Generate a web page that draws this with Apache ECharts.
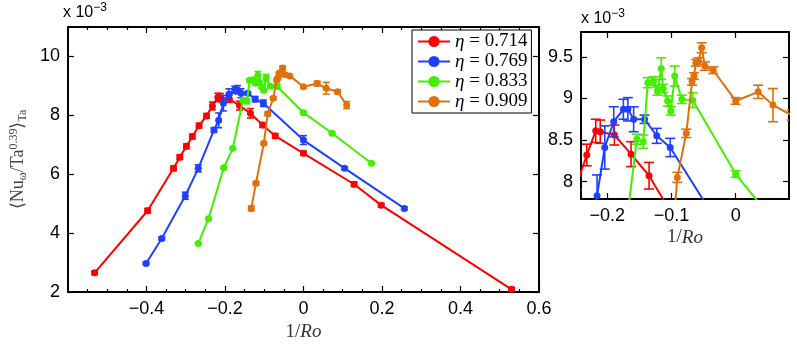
<!DOCTYPE html>
<html>
<head>
<meta charset="utf-8">
<script src="https://cdn.jsdelivr.net/npm/echarts@6/dist/echarts.min.js"></script>
<style>
  html, body { margin: 0; padding: 0; background: #fff; }
  #chart { width: 797px; height: 351px; }
</style>
</head>
<body>
<div id="chart"></div>
<script>
// 数据 (单位 x10^-3)
var names = ['η = 0.714', 'η = 0.769', 'η = 0.833', 'η = 0.909']

var redX = [-0.532, -0.397, -0.331, -0.315, -0.298, -0.283, -0.266, -0.247, -0.232, -0.218, -0.211, -0.189, -0.163, -0.135, -0.104, -0.072, 0, 0.129, 0.198, 0.53]
var redY = [2.65, 4.76, 6.2, 6.58, 6.95, 7.28, 7.65, 7.98, 8.32, 8.61, 8.6, 8.56, 8.33, 8.07, 7.67, 7.3, 6.71, 5.66, 4.95, 2.09]
var redErr = [0.06, 0.08, 0.08, 0.08, 0.08, 0.08, 0.08, 0.08, 0.13, 0.14, 0.14, 0.12, 0.15, 0.16, 0.08, 0.08, 0.07, 0.08, 0.06, 0.06]

var blueX = [-0.401, -0.361, -0.301, -0.268, -0.228, -0.216, -0.204, -0.19, -0.175, -0.168, -0.159, -0.142, -0.123, -0.102, 0, 0.105, 0.257]
var blueY = [2.97, 3.82, 5.27, 6.2, 7.5, 7.83, 8.41, 8.72, 8.87, 8.87, 8.75, 8.75, 8.55, 8.41, 7.16, 6.2, 4.84]
var blueErr = [0.04, 0.05, 0.12, 0.12, 0.08, 0.25, 0.26, 0.18, 0.12, 0.14, 0.15, 0.05, 0.09, 0.11, 0.15, 0.05, 0.05]

var greenX = [-0.268, -0.242, -0.203, -0.18, -0.154, -0.144, -0.137, -0.128, -0.122, -0.116, -0.113, -0.106, -0.101, -0.095, -0.084, -0.067, 0, 0.073, 0.173]
var greenY = [3.65, 4.49, 6.22, 6.88, 8.51, 8.48, 9.19, 9.21, 9.09, 9.36, 9.12, 8.97, 8.85, 9.27, 8.99, 8.98, 8.09, 7.39, 6.37]
var greenErr = [0.03, 0.03, 0.03, 0.03, 0.06, 0.08, 0.06, 0.05, 0.05, 0.13, 0.05, 0.06, 0.05, 0.12, 0.05, 0.09, 0.04, 0.03, 0.03]

var orangeX = [-0.133, -0.121, -0.101, -0.091, -0.077, -0.068, -0.065, -0.062, -0.058, -0.053, -0.048, -0.035, 0, 0.035, 0.058, 0.087, 0.11]
var orangeY = [4.84, 5.69, 7.05, 8.05, 8.58, 9.2, 9.27, 9.43, 9.45, 9.61, 9.39, 9.34, 8.97, 9.08, 8.92, 8.8, 8.35]
var orangeErr = [0.08, 0.06, 0.04, 0.06, 0.05, 0.04, 0.04, 0.04, 0.04, 0.06, 0.05, 0.04, 0.04, 0.08, 0.2, 0.06, 0.12]

var mainXTicks = [-0.4, -0.2, 0, 0.2, 0.4, 0.6]
var mainYTicks = [2, 4, 6, 8, 10]
var insetXTicks = [-0.2, -0.1, 0]
var insetYTicks = [8, 8.5, 9, 9.5]

var colors = ['#ff0000', '#1f40ff', '#44ee00', '#e0700a']
var groups = [
  [redX, redY, redErr],
  [blueX, blueY, blueErr],
  [greenX, greenY, greenErr],
  [orangeX, orangeY, orangeErr]
]

var labelFont = 'Liberation Sans'
var serif = 'Liberation Serif'

function minus(v) {
  var s = String(Math.round(v * 100) / 100)
  return s.replace('-', '−')
}

// 坐标轴
function xAxis(grid, pos, min, max, ticks, showLabel, minor) {
  return {
    type: 'value', gridIndex: grid, position: pos, min: min, max: max,
    splitLine: { show: false },
    axisLine: { onZero: false, lineStyle: { color: '#000', width: 2 } },
    axisTick: { inside: true, length: 6, customValues: ticks, lineStyle: { color: '#000', width: 1.2 } },
    minorTick: { show: minor, splitNumber: 4, length: 3, lineStyle: { color: '#000', width: 1.2 } },
    axisLabel: { show: showLabel, customValues: ticks, formatter: minus, color: '#000', fontSize: 18, fontFamily: labelFont, margin: 8 }
  }
}
function yAxis(grid, pos, min, max, ticks, showLabel) {
  return {
    type: 'value', gridIndex: grid, position: pos, min: min, max: max,
    splitLine: { show: false },
    axisLine: { onZero: false, lineStyle: { color: '#000', width: 2 } },
    axisTick: { inside: true, length: 6, customValues: ticks, lineStyle: { color: '#000', width: 1.2 } },
    axisLabel: { show: showLabel, customValues: ticks, formatter: minus, color: '#000', fontSize: 18, fontFamily: labelFont, margin: 8 }
  }
}

var roName = {
  name: '{n|1/}{i|Ro}', nameLocation: 'middle',
  nameTextStyle: {
    rich: {
      n: { fontFamily: serif, fontSize: 19, color: '#333' },
      i: { fontFamily: serif, fontStyle: 'italic', fontSize: 19, color: '#333' }
    }
  }
}

var xAxes = [
  Object.assign(xAxis(0, 'bottom', -0.6, 0.6, mainXTicks, true, true), roName, { nameGap: 30 }),
  xAxis(0, 'top', -0.6, 0.6, mainXTicks, false, true),
  Object.assign(xAxis(1, 'bottom', -0.241, 0.083, insetXTicks, true, false), roName, { nameGap: 29 }),
  xAxis(1, 'top', -0.241, 0.083, insetXTicks, false, false)
]
var yAxes = [
  Object.assign(yAxis(0, 'left', 2, 11, mainYTicks, true), {
    name: '{t|⟨Nu}{s|ω}{t|/Ta}{p|0.39}{t|⟩}{s|Ta}',
    nameLocation: 'middle', nameRotate: 90, nameGap: 31,
    nameTextStyle: {
      rich: {
        t: { fontFamily: serif, fontSize: 18, color: '#444' },
        s: { fontFamily: serif, fontSize: 12, color: '#444', padding: [9, 0, 0, 0] },
        p: { fontFamily: serif, fontSize: 12, color: '#444', padding: [0, 0, 9, 0] }
      }
    }
  }),
  yAxis(0, 'right', 2, 11, mainYTicks, false),
  yAxis(1, 'left', 7.79, 9.8, insetYTicks, true),
  yAxis(1, 'right', 7.79, 9.8, insetYTicks, false)
]

// 误差棒
function errRender(cap, color) {
  return function (params, api) {
    var x = api.value(0), y = api.value(1), e = api.value(2)
    var a = api.coord([x, y + e]), b = api.coord([x, y - e])
    var st = { stroke: color, lineWidth: 1.6 }
    return {
      type: 'group', children: [
        { type: 'line', shape: { x1: a[0], y1: a[1], x2: b[0], y2: b[1] }, style: st },
        { type: 'line', shape: { x1: a[0] - cap, y1: a[1], x2: a[0] + cap, y2: a[1] }, style: st },
        { type: 'line', shape: { x1: b[0] - cap, y1: b[1], x2: b[0] + cap, y2: b[1] }, style: st }
      ]
    }
  }
}

var series = []
groups.forEach(function (g, i) {
  var pts = g[0].map(function (x, k) { return [x, g[1][k]] })
  var errs = g[0].map(function (x, k) { return [x, g[1][k], g[2][k]] })
  ;[[0, 3.5], [2, 5]].forEach(function (ax) {
    series.push({
      type: 'custom', xAxisIndex: ax[0], yAxisIndex: ax[0], clip: true, silent: true,
      renderItem: errRender(ax[1], colors[i]), data: errs, z: 2 + i
    })
    series.push({
      name: names[i], type: 'line', xAxisIndex: ax[0], yAxisIndex: ax[0], clip: true,
      data: pts, symbol: 'circle', symbolSize: 7, showSymbol: true,
      lineStyle: { color: colors[i], width: 2 }, itemStyle: { color: colors[i] }, z: 2 + i
    })
  })
})

var option = {
  animation: false,
  backgroundColor: '#fff',
  grid: [
    { left: 64, top: 27, width: 475, height: 265 },
    { left: 581, top: 32, width: 208, height: 167 }
  ],
  xAxis: xAxes,
  yAxis: yAxes,
  legend: {
    data: names, orient: 'vertical', left: 412, top: 30, selectedMode: false,
    backgroundColor: '#fff', borderColor: '#000', borderWidth: 1,
    padding: [2, 4, 2, 5], itemGap: 1, itemWidth: 32, itemHeight: 14,
    formatter: function (n) { return '{i|η}{t| = ' + n.split('= ')[1] + '}' },
    textStyle: {
      rich: {
        i: { fontFamily: serif, fontStyle: 'italic', fontSize: 19, color: '#000' },
        t: { fontFamily: serif, fontSize: 19, color: '#000' }
      }
    }
  },
  graphic: [
    {
      type: 'text', left: 63, top: 2,
      style: { text: '{a|x 10}{b|−3}', rich: { a: { fontFamily: labelFont, fontSize: 16, fill: '#000' }, b: { fontFamily: labelFont, fontSize: 12, fill: '#000', padding: [0, 0, 10, 0] } } }
    },
    {
      type: 'text', left: 581, top: 8,
      style: { text: '{a|x 10}{b|−3}', rich: { a: { fontFamily: labelFont, fontSize: 16, fill: '#000' }, b: { fontFamily: labelFont, fontSize: 12, fill: '#000', padding: [0, 0, 10, 0] } } }
    }
  ],
  series: series
}

var myChart = echarts.init(document.getElementById('chart'))
myChart.setOption(option)
</script>
</body>
</html>
